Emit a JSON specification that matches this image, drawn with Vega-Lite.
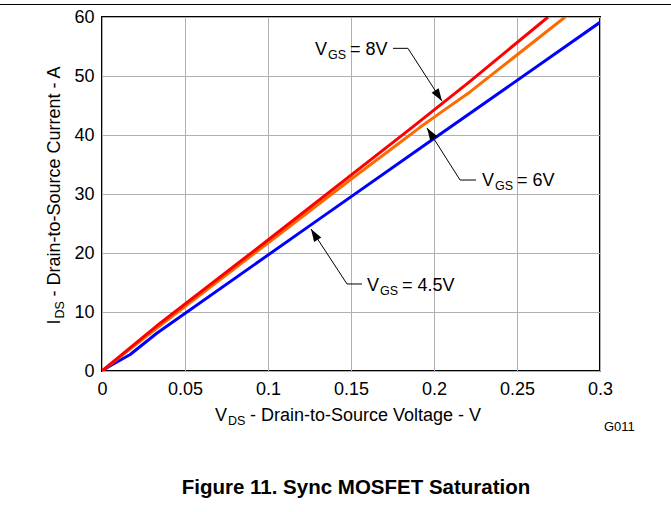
{
  "$schema": "https://vega.github.io/schema/vega-lite/v6.json",
  "width": 498,
  "height": 354,
  "autosize": {"type": "none"},
  "padding": {"left": 102, "top": 17, "right": 71, "bottom": 141},
  "background": "white",
  "config": {
    "font": "Liberation Sans",
    "view": {"stroke": "black", "strokeWidth": 2},
    "axis": {
      "labelFont": "Liberation Sans",
      "labelFontSize": 18,
      "labelColor": "black",
      "domain": false,
      "ticks": false,
      "tickSize": 0,
      "grid": true,
      "gridColor": "#b0b0b0",
      "gridWidth": 1,
      "labelFlush": false,
      "labelOverlap": false
    },
    "axisX": {"labelPadding": 9},
    "axisY": {"labelPadding": 8}
  },
  "title": {
    "text": "Figure 11. Sync MOSFET Saturation",
    "orient": "bottom",
    "anchor": "middle",
    "font": "Liberation Sans",
    "fontSize": 20.5,
    "fontWeight": "bold",
    "color": "black",
    "offset": 44,
    "dx": 5
  },
  "datasets": {
    "curves": [
      {"vgs": "4.5V", "x": 0, "y": 0},
      {"vgs": "4.5V", "x": 0.005, "y": 0.9},
      {"vgs": "4.5V", "x": 0.017, "y": 2.8},
      {"vgs": "4.5V", "x": 0.033, "y": 6.4},
      {"vgs": "4.5V", "x": 0.125, "y": 24.6},
      {"vgs": "4.5V", "x": 0.2, "y": 39.4},
      {"vgs": "4.5V", "x": 0.3, "y": 59.1},
      {"vgs": "6V", "x": 0, "y": 0},
      {"vgs": "6V", "x": 0.035, "y": 7.7},
      {"vgs": "6V", "x": 0.1, "y": 21.7},
      {"vgs": "6V", "x": 0.15, "y": 32.5},
      {"vgs": "6V", "x": 0.1916, "y": 41.3},
      {"vgs": "6V", "x": 0.205, "y": 44.0},
      {"vgs": "6V", "x": 0.2217, "y": 47.3},
      {"vgs": "6V", "x": 0.279, "y": 60}
    ],
    "curves2": [
      {"vgs": "8V", "x": 0, "y": 0},
      {"vgs": "8V", "x": 0.035, "y": 8.1},
      {"vgs": "8V", "x": 0.1, "y": 22.2},
      {"vgs": "8V", "x": 0.1855, "y": 41.0},
      {"vgs": "8V", "x": 0.2217, "y": 49.1},
      {"vgs": "8V", "x": 0.2687, "y": 60}
    ],
    "labels": [
      {"id": "8V", "main": "V", "sub": "GS", "rest": "= 8V", "x": 0.12831, "y": 53.56},
      {"id": "6V", "main": "V", "sub": "GS", "rest": "= 6V", "x": 0.22892, "y": 31.36},
      {"id": "4.5V", "main": "V", "sub": "GS", "rest": "= 4.5V", "x": 0.15964, "y": 13.56},
      {"id": "xtitle", "main": "V", "sub": "DS", "rest": "- Drain-to-Source Voltage - V", "x": 0.06807, "y": -8.47}
    ],
    "ytitle": [
      {"main": "I", "sub": "DS", "rest": "- Drain-to-Source Current - A", "x": -0.0253, "y": 7.88}
    ],
    "leaders": [
      {"id": "8V", "i": 0, "x": 0.1753, "y": 54.69},
      {"id": "8V", "i": 1, "x": 0.1843, "y": 54.69},
      {"id": "8V", "i": 2, "x": 0.2048, "y": 45.76},
      {"id": "6V", "i": 0, "x": 0.2253, "y": 32.37},
      {"id": "6V", "i": 1, "x": 0.2157, "y": 32.37},
      {"id": "6V", "i": 2, "x": 0.1958, "y": 41.19},
      {"id": "4.5V", "i": 0, "x": 0.1566, "y": 14.75},
      {"id": "4.5V", "i": 1, "x": 0.1476, "y": 14.75},
      {"id": "4.5V", "i": 2, "x": 0.1259, "y": 24.07}
    ],
    "tips": [
      {"id": "8V", "x": 0.2048, "y": 45.76},
      {"id": "6V", "x": 0.1958, "y": 41.19},
      {"id": "4.5V", "x": 0.1259, "y": 24.07}
    ],
    "notes": [
      {"text": "G011", "x": 0.30241, "y": -10.17}
    ],
    "topline": [
      {"x": -0.0614, "x2": 0.3428, "y": 62.12}
    ]
  },
  "encoding": {
    "x": {"field": "x", "type": "quantitative", "scale": {"domain": [0, 0.3], "nice": false, "zero": false},
          "axis": {"values": [0, 0.05, 0.1, 0.15, 0.2, 0.25, 0.3], "format": ".2~f", "title": null}},
    "y": {"field": "y", "type": "quantitative", "scale": {"domain": [0, 60], "nice": false},
          "axis": {"values": [0, 10, 20, 30, 40, 50, 60], "title": null}}
  },
  "layer": [
    {
      "data": {"name": "curves"},
      "mark": {"type": "line", "strokeWidth": 3, "strokeJoin": "round", "clip": true},
      "encoding": {
        "color": {"field": "vgs", "type": "nominal",
                  "scale": {"domain": ["4.5V", "6V", "8V"], "range": ["#0000ff", "#ff6a00", "#ff0000"]},
                  "legend": null},
        "order": {"field": "x", "type": "quantitative"}
      }
    },
    {
      "data": {"name": "curves2"},
      "mark": {"type": "line", "strokeWidth": 3, "strokeJoin": "round", "clip": true},
      "encoding": {
        "color": {"field": "vgs", "type": "nominal", "legend": null},
        "order": {"field": "x", "type": "quantitative"}
      }
    },
    {
      "data": {"name": "leaders"},
      "mark": {"type": "line", "color": "black", "strokeWidth": 1},
      "encoding": {
        "detail": {"field": "id", "type": "nominal"},
        "order": {"field": "i", "type": "quantitative"}
      }
    },
    {
      "data": {"name": "tips"},
      "transform": [{"filter": "datum.id == '8V'"}],
      "mark": {"type": "point", "shape": "M0,0L-0.7,2.1L0.7,2.1Z", "size": 144, "angle": 147.2, "filled": true, "color": "black", "opacity": 1}
    },
    {
      "data": {"name": "tips"},
      "transform": [{"filter": "datum.id == '6V'"}],
      "mark": {"type": "point", "shape": "M0,0L-0.7,2.1L0.7,2.1Z", "size": 144, "angle": 327.6, "filled": true, "color": "black", "opacity": 1}
    },
    {
      "data": {"name": "tips"},
      "transform": [{"filter": "datum.id == '4.5V'"}],
      "mark": {"type": "point", "shape": "M0,0L-0.7,2.1L0.7,2.1Z", "size": 144, "angle": 327.9, "filled": true, "color": "black", "opacity": 1}
    },
    {
      "data": {"name": "labels"},
      "mark": {"type": "text", "align": "left", "baseline": "alphabetic", "fontSize": 18, "color": "black"},
      "encoding": {"text": {"field": "main"}}
    },
    {
      "data": {"name": "labels"},
      "mark": {"type": "text", "align": "left", "baseline": "alphabetic", "fontSize": 12.5, "dx": 13, "dy": 4, "color": "black"},
      "encoding": {"text": {"field": "sub"}}
    },
    {
      "data": {"name": "labels"},
      "mark": {"type": "text", "align": "left", "baseline": "alphabetic", "fontSize": 18, "dx": 35, "color": "black"},
      "encoding": {"text": {"field": "rest"}}
    },
    {
      "data": {"name": "ytitle"},
      "mark": {"type": "text", "align": "left", "baseline": "alphabetic", "fontSize": 18, "angle": 270, "color": "black"},
      "encoding": {"text": {"field": "main"}}
    },
    {
      "data": {"name": "ytitle"},
      "mark": {"type": "text", "align": "left", "baseline": "alphabetic", "fontSize": 12.5, "angle": 270, "dx": 6, "dy": 4, "color": "black"},
      "encoding": {"text": {"field": "sub"}}
    },
    {
      "data": {"name": "ytitle"},
      "mark": {"type": "text", "align": "left", "baseline": "alphabetic", "fontSize": 18, "angle": 270, "dx": 28, "color": "black"},
      "encoding": {"text": {"field": "rest"}}
    },
    {
      "data": {"name": "notes"},
      "mark": {"type": "text", "align": "left", "baseline": "alphabetic", "fontSize": 13, "color": "black"},
      "encoding": {"text": {"field": "text"}}
    },
    {
      "data": {"name": "topline"},
      "mark": {"type": "rule", "color": "black", "strokeWidth": 1},
      "encoding": {"x2": {"field": "x2"}}
    }
  ]
}
